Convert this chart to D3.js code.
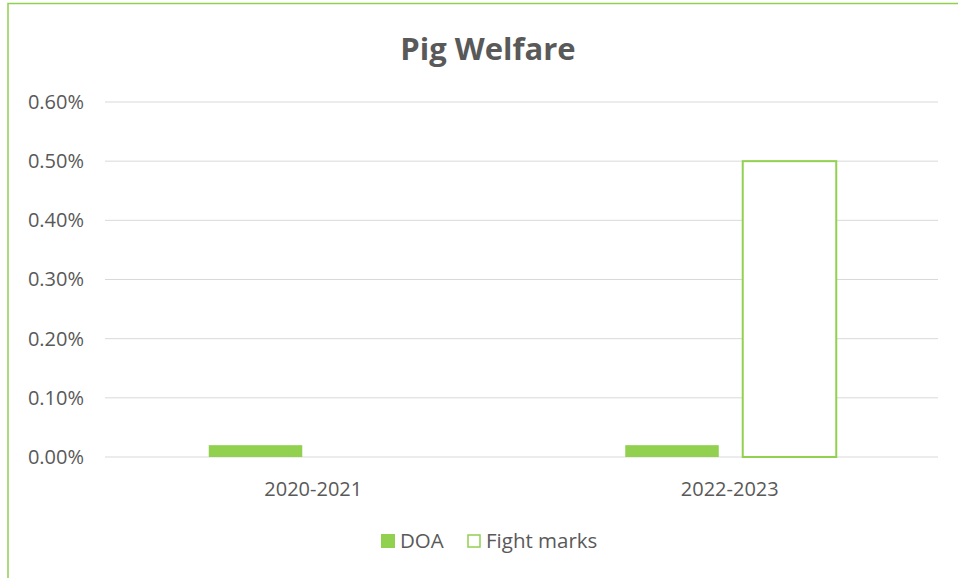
<!DOCTYPE html>
<html>
<head>
<meta charset="utf-8">
<script src="https://cdn.jsdelivr.net/npm/d3@7"></script>
<style>
  body { margin: 0; background: #fff; }
  text { font-family: "Open Sans", sans-serif; fill: #595959; }
</style>
</head>
<body>
<svg id="chart" width="958" height="578"></svg>
<script>
// Chart data
const categories = ["2020-2021", "2022-2023"];
const seriesNames = ["DOA", "Fight marks"];
const doaValues = [0.0002, 0.0002];
const fightMarksValues = [0, 0.005];
const yTicks = [0, 0.001, 0.002, 0.003, 0.004, 0.005, 0.006];

const green = "#92d050";

const svg = d3.select("#chart");
const margin = { top: 102, right: 20, bottom: 121, left: 105 };
const width = 938 - margin.left;
const height = 457 - margin.top;

// Chart frame
svg.append("rect")
  .attr("x", 8).attr("y", 3.5)
  .attr("width", 960).attr("height", 600)
  .attr("fill", "none")
  .attr("stroke", green)
  .attr("stroke-width", 1.5);

const g = svg.append("g").attr("transform", `translate(${margin.left},${margin.top})`);

const groupWidth = 211;
const x = d3.scaleBand().domain(categories).range([0, width]);
const xInner = d3.scaleBand().domain(seriesNames).range([0, groupWidth]).paddingInner(0.204);
const y = d3.scaleLinear().domain([0, 0.006]).range([height, 0]);

// Gridlines
g.selectAll(".grid")
  .data(yTicks)
  .join("line")
  .attr("x1", 0).attr("x2", width)
  .attr("y1", d => y(d)).attr("y2", d => y(d))
  .attr("stroke", "#d9d9d9")
  .attr("stroke-width", 1);

// Y axis labels
const yAxis = d3.axisLeft(y).tickValues(yTicks).tickFormat(d3.format(".2%")).tickSize(0).tickPadding(21);
g.append("g").call(yAxis)
  .call(s => s.select(".domain").remove())
  .selectAll("text")
  .style("font-size", "20px")
  .attr("fill", "#595959");

// X axis labels
const xAxis = d3.axisBottom(x).tickSize(0).tickPadding(25);
g.append("g").attr("transform", `translate(0,${height})`).call(xAxis)
  .call(s => s.select(".domain").remove())
  .selectAll("text")
  .style("font-size", "20px")
  .attr("fill", "#595959");

// Bars
const rows = categories.map((c, i) => ({ cat: c, values: [doaValues[i], fightMarksValues[i]] }));
const groupOffset = (x.bandwidth() - groupWidth) / 2 + 1;

const groups = g.selectAll(".group")
  .data(rows)
  .join("g")
  .attr("transform", d => `translate(${x(d.cat) + groupOffset},0)`);

groups.selectAll("rect")
  .data(d => d.values.map((v, j) => ({ name: seriesNames[j], v })))
  .join("rect")
  .filter(d => d.v > 0)
  .attr("x", d => xInner(d.name))
  .attr("y", d => y(d.v))
  .attr("width", xInner.bandwidth())
  .attr("height", d => y(0) - y(d.v))
  .attr("fill", d => d.name === "DOA" ? green : "#fff")
  .attr("stroke", d => d.name === "DOA" ? "none" : green)
  .attr("stroke-width", 2);

// Title
svg.append("text")
  .attr("x", 488).attr("y", 60)
  .attr("text-anchor", "middle")
  .style("font-size", "31px")
  .style("font-weight", "bold")
  .text("Pig Welfare");

// Legend
const legend = svg.append("g").attr("transform", "translate(381,534)");
const legendItems = [
  { name: seriesNames[0], x: 0, fill: green, stroke: "none" },
  { name: seriesNames[1], x: 86, fill: "#fff", stroke: green }
];
const li = legend.selectAll(".item").data(legendItems).join("g")
  .attr("transform", d => `translate(${d.x},0)`);
li.append("rect")
  .attr("x", d => d.stroke === "none" ? 0 : 1)
  .attr("y", d => d.stroke === "none" ? 0 : 1)
  .attr("width", d => d.stroke === "none" ? 14 : 12)
  .attr("height", d => d.stroke === "none" ? 14 : 12)
  .attr("fill", d => d.fill)
  .attr("stroke", d => d.stroke)
  .attr("stroke-width", 1.5);
li.append("text")
  .attr("x", 19).attr("y", 14)
  .style("font-size", "20.5px")
  .text(d => d.name);
</script>
</body>
</html>
